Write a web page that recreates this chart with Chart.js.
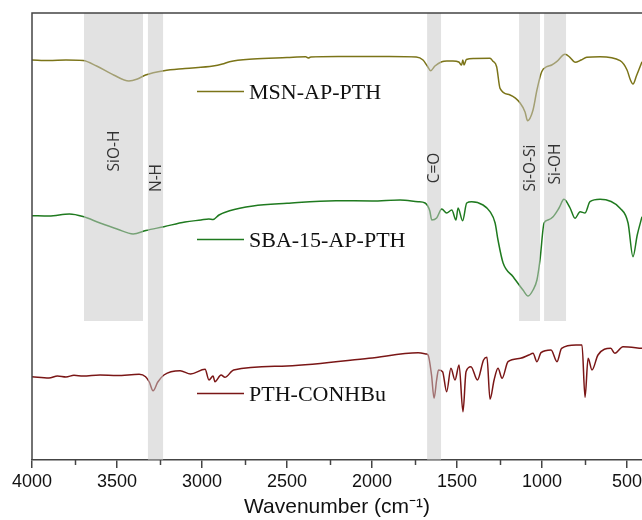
<!DOCTYPE html>
<html>
<head>
<meta charset="utf-8">
<script src="https://cdn.jsdelivr.net/npm/chart.js@4.4.1/dist/chart.umd.min.js"></script>
<style>
  html, body { margin: 0; padding: 0; background: #fff; }
</style>
</head>
<body>
<canvas id="c" width="642" height="520"></canvas>
<script>
// x axis: wavenumber (cm-1), reversed
const xTicks = [4000, 3500, 3000, 2500, 2000, 1500, 1000, 500];
const xMinorTicks = [3750, 3250, 2750, 2250, 1750, 1250, 750];

const seriesNames = ['MSN-AP-PTH', 'SBA-15-AP-PTH', 'PTH-CONHBu'];

// transmittance, arbitrary units (traces are offset)
const wnMSN = [4000, 3900, 3800, 3700, 3620, 3520, 3430, 3380, 3332, 3224, 3100, 2935, 2880, 2838, 2700, 2500, 2390, 2375, 2360, 2200, 1900, 1740, 1700, 1675, 1655, 1630, 1590, 1560, 1524, 1490, 1473, 1466, 1459, 1445, 1400, 1306, 1290, 1267, 1247, 1188, 1129, 1100, 1085, 1053, 1030, 1002, 972, 943, 914, 865, 836, 806, 770, 737, 659, 541, 500, 480, 465, 445, 412];
const tMSN = [4.00, 3.995, 4.00, 3.995, 3.94, 3.85, 3.79, 3.81, 3.85, 3.893, 3.915, 3.94, 3.96, 3.983, 4.01, 4.025, 4.033, 4.02, 4.03, 4.035, 4.035, 4.03, 4.00, 3.94, 3.893, 3.94, 3.983, 3.99, 3.99, 3.98, 3.95, 4.00, 3.95, 4.005, 4.015, 4.017, 3.99, 3.933, 3.717, 3.65, 3.57, 3.48, 3.393, 3.50, 3.70, 3.883, 3.933, 3.95, 3.983, 4.057, 4.027, 3.977, 4.00, 4.027, 4.033, 3.993, 3.90, 3.80, 3.76, 3.84, 3.983];

const wnSBA = [4000, 3900, 3780, 3700, 3600, 3500, 3405, 3330, 3224, 3100, 3006, 2960, 2935, 2900, 2838, 2700, 2500, 2212, 2000, 1835, 1729, 1688, 1660, 1649, 1620, 1590, 1561, 1531, 1506, 1494, 1467, 1443, 1414, 1347, 1306, 1276, 1259, 1229, 1170, 1112, 1082, 1053, 1030, 1012, 988, 965, 935, 900, 871, 835, 806, 776, 747, 718, 659, 541, 494, 465, 440, 412];
const tSBA = [2.443, 2.44, 2.46, 2.435, 2.37, 2.31, 2.26, 2.295, 2.333, 2.38, 2.40, 2.41, 2.405, 2.45, 2.493, 2.54, 2.567, 2.593, 2.59, 2.60, 2.583, 2.57, 2.49, 2.40, 2.42, 2.51, 2.47, 2.50, 2.40, 2.52, 2.393, 2.57, 2.583, 2.55, 2.483, 2.37, 2.20, 1.97, 1.833, 1.70, 1.64, 1.70, 1.80, 2.00, 2.37, 2.40, 2.433, 2.52, 2.607, 2.52, 2.417, 2.483, 2.47, 2.583, 2.607, 2.517, 2.37, 2.033, 2.25, 2.433];

const wnPTH = [4000, 3900, 3850, 3800, 3753, 3700, 3600, 3500, 3370, 3332, 3310, 3288, 3260, 3224, 3129, 3067, 2982, 2959, 2935, 2924, 2888, 2865, 2814, 2500, 2018, 1729, 1680, 1670, 1650, 1635, 1620, 1609, 1585, 1561, 1536, 1512, 1488, 1465, 1447, 1418, 1380, 1344, 1324, 1306, 1282, 1259, 1235, 1200, 1127, 1078, 1053, 1030, 1006, 947, 912, 885, 800, 765, 747, 729, 706, 671, 596, 572, 524, 412];
const tPTH = [0.833, 0.82, 0.84, 0.83, 0.847, 0.84, 0.85, 0.845, 0.857, 0.833, 0.78, 0.693, 0.78, 0.85, 0.893, 0.86, 0.907, 0.80, 0.84, 0.783, 0.85, 0.827, 0.90, 0.94, 1.017, 1.073, 1.06, 1.05, 0.85, 0.617, 0.80, 0.90, 0.883, 0.683, 0.917, 0.80, 0.95, 0.483, 0.883, 0.933, 0.80, 1.00, 1.027, 0.607, 0.80, 0.917, 0.817, 0.983, 1.017, 1.05, 1.067, 0.983, 1.073, 1.10, 0.983, 1.117, 1.15, 1.15, 0.627, 1.017, 0.90, 1.05, 1.117, 1.067, 1.133, 1.117];

// assignment bands (wavenumber ranges) and where they stop (a.u., null = down to axis)
const bandLabels = ['SiO-H', 'N-H', 'C=O', 'Si-O-Si', 'Si-OH'];
const bandFrom = [3694, 3318, 1676, 1135, 988];
const bandTo = [3347, 3229, 1594, 1012, 859];
const bandStop = [1.39, null, null, 1.39, 1.39];
const bandLabelAt = [3.09, 2.82, 2.92, 2.92, 2.96];

const colors = ['#7b7418', '#1f7a1f', '#7a1616'];

function pts(wn, t) {
  return wn.map((x, i) => ({ x: x, y: t[i] }));
}

const overlay = {
  id: 'overlay',
  afterDatasetsDraw(chart) {
    const ctx = chart.ctx;
    const a = chart.chartArea;
    const xs = chart.scales.x, ys = chart.scales.y;
    ctx.save();
    // shaded bands sit on top of the traces
    ctx.fillStyle = 'rgba(200,200,200,0.52)';
    for (let i = 0; i < bandLabels.length; i++) {
      const x1 = xs.getPixelForValue(bandFrom[i]);
      const x2 = xs.getPixelForValue(bandTo[i]);
      const yb = bandStop[i] == null ? a.bottom : ys.getPixelForValue(bandStop[i]);
      ctx.fillRect(x1, a.top, x2 - x1, yb - a.top);
    }
    // band labels, vertical
    ctx.fillStyle = '#333';
    ctx.font = '15.5px "Open Sans", "Noto Sans", sans-serif';
    ctx.textAlign = 'center';
    ctx.textBaseline = 'middle';
    for (let i = 0; i < bandLabels.length; i++) {
      const cx = xs.getPixelForValue((bandFrom[i] + bandTo[i]) / 2);
      const cy = ys.getPixelForValue(bandLabelAt[i]);
      ctx.save();
      ctx.translate(cx + 1, cy);
      ctx.rotate(-Math.PI / 2);
      ctx.fillText(bandLabels[i], 0, 0);
      ctx.restore();
    }
    // inline legend
    const legY = [91, 239, 393];
    ctx.font = '22px "Liberation Serif", "Times New Roman", serif';
    ctx.textAlign = 'left';
    ctx.textBaseline = 'alphabetic';
    for (let i = 0; i < seriesNames.length; i++) {
      ctx.strokeStyle = colors[i];
      ctx.lineWidth = 1.5;
      ctx.beginPath();
      ctx.moveTo(197, legY[i] + 0.5);
      ctx.lineTo(244, legY[i] + 0.5);
      ctx.stroke();
      ctx.fillStyle = '#111';
      ctx.fillText(seriesNames[i], 249, legY[i] + 8);
    }
    // frame: top and left lines
    ctx.strokeStyle = '#444';
    ctx.lineWidth = 1.5;
    ctx.beginPath();
    ctx.moveTo(a.left, a.bottom);
    ctx.lineTo(a.left, a.top);
    ctx.lineTo(a.right, a.top);
    ctx.stroke();
    // minor ticks
    for (const v of xMinorTicks) {
      const px = Math.round(xs.getPixelForValue(v)) + 0.5;
      ctx.beginPath();
      ctx.moveTo(px, a.bottom);
      ctx.lineTo(px, a.bottom + 5);
      ctx.stroke();
    }
    ctx.restore();
  }
};

new Chart(document.getElementById('c'), {
  type: 'line',
  data: {
    datasets: [
      { label: seriesNames[0], data: pts(wnMSN, tMSN), borderColor: colors[0] },
      { label: seriesNames[1], data: pts(wnSBA, tSBA), borderColor: colors[1] },
      { label: seriesNames[2], data: pts(wnPTH, tPTH), borderColor: colors[2] }
    ]
  },
  options: {
    responsive: false,
    animation: false,
    layout: { padding: { left: 32, top: 13, right: 0, bottom: 0 } },
    elements: {
      point: { radius: 0 },
      line: { borderWidth: 1.5, cubicInterpolationMode: 'monotone' }
    },
    plugins: { legend: { display: false }, tooltip: { enabled: false } },
    scales: {
      x: {
        type: 'linear',
        reverse: true,
        min: 412,
        max: 4000,
        afterBuildTicks(scale) {
          scale.ticks = xTicks.map(v => ({ value: v }));
        },
        afterFit(scale) {
          scale.height = 60;
          scale.paddingRight = 0;
          scale.paddingLeft = 0;
        },
        grid: { display: true, drawOnChartArea: false, tickLength: 8, color: '#444', lineWidth: 1.5 },
        border: { display: true, color: '#444', width: 1.5 },
        ticks: {
          autoSkip: false,
          maxRotation: 0,
          padding: 3,
          color: '#111',
          font: { family: '"Liberation Sans", Arial, sans-serif', size: 18 },
          callback: v => String(v)
        },
        title: {
          display: true,
          text: 'Wavenumber (cm\u207B\u00B9)',
          color: '#111',
          padding: { top: 0, bottom: 0 },
          font: { family: '"Liberation Sans", Arial, sans-serif', size: 21 }
        }
      },
      y: {
        display: false,
        min: 0,
        max: 4.47
      }
    }
  },
  plugins: [overlay]
});
</script>
</body>
</html>
